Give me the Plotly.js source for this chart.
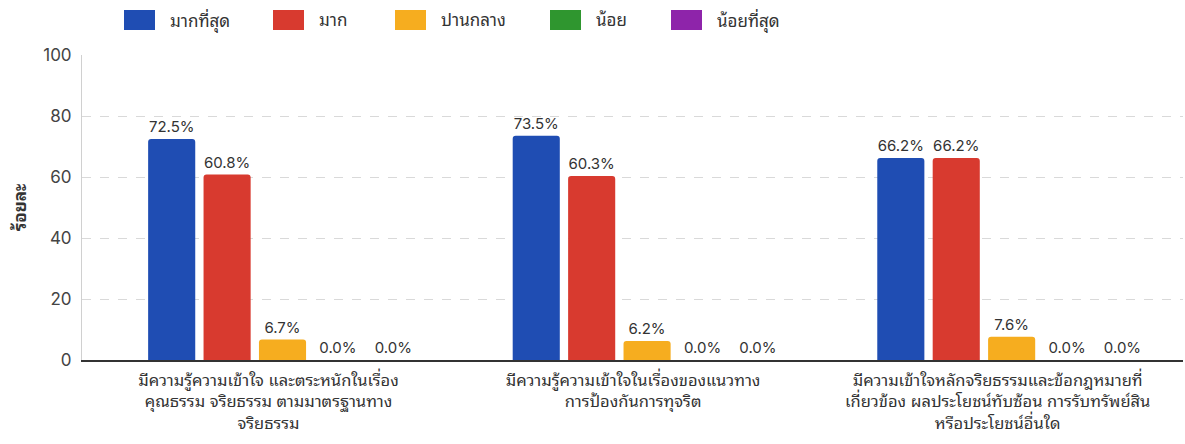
<!DOCTYPE html>
<html>
<head>
<meta charset="utf-8">
<script src="https://cdn.plot.ly/plotly-3.0.1.min.js"></script>
<style>html,body{margin:0;padding:0;background:#fff;}#chart{width:1185px;height:444px;}</style>
</head>
<body>
<div id="chart"></div>
<script>
const categories = ["ด้านที่ 1", "ด้านที่ 2", "ด้านที่ 3"];
const tickLabels = [
  "มีความรู้ความเข้าใจ และตระหนักในเรื่อง<br>คุณธรรม จริยธรรม ตามมาตรฐานทาง<br>จริยธรรม",
  "มีความรู้ความเข้าใจในเรื่องของแนวทาง<br>การป้องกันการทุจริต",
  "มีความเข้าใจหลักจริยธรรมและข้อกฎหมายที่<br>เกี่ยวข้อง ผลประโยชน์ทับซ้อน การรับทรัพย์สิน<br>หรือประโยชน์อื่นใด"
];
const seriesNames = ["มากที่สุด", "มาก", "ปานกลาง", "น้อย", "น้อยที่สุด"];
const veryHigh = [72.5, 73.5, 66.2];
const high = [60.8, 60.3, 66.2];
const medium = [6.7, 6.2, 7.6];
const low = [0.0, 0.0, 0.0];
const veryLow = [0.0, 0.0, 0.0];
const seriesValues = [veryHigh, high, medium, low, veryLow];
const yTicks = [0, 20, 40, 60, 80, 100];

const colors = ["#1f4db3", "#d83a2f", "#f6ad1f", "#2f962f", "#8e24aa"];
const FONT = "Inter, 'Noto Sans Thai Looped', Loma, Garuda, 'Noto Sans Thai', 'Noto Sans', Roboto, sans-serif";

const traces = seriesValues.map((vals, i) => ({
  type: "bar",
  name: seriesNames[i],
  x: categories,
  y: vals,
  marker: { color: colors[i], cornerradius: 3 },
  text: vals.map(v => v.toFixed(1) + "%"),
  textposition: "outside",
  cliponaxis: false,
  textfont: { family: FONT, size: 15, color: "#333" },
  hoverinfo: "skip"
}));

// custom legend (large swatches)
const W = 1185, H = 444;
const mL = 82, mR = 2, mT = 55, mB = 84;
const pw = W - mL - mR, ph = H - mT - mB;
const px = x => (x - mL) / pw;
const py = y => (H - mB - y) / ph;
const swatchX = [124, 273, 395, 550, 671];
const shapes = [];
const annotations = [];
seriesNames.forEach((n, i) => {
  shapes.push({
    type: "rect", xref: "paper", yref: "paper",
    x0: px(swatchX[i]), x1: px(swatchX[i] + 31),
    y0: py(30), y1: py(10),
    fillcolor: colors[i], line: { width: 0 }
  });
  annotations.push({
    xref: "paper", yref: "paper",
    x: px(swatchX[i] + 44), y: py(20),
    xanchor: "left", yanchor: "middle",
    text: n, showarrow: false,
    font: { family: FONT, size: 17, color: "#333" }
  });
});

const layout = {
  width: W, height: H,
  margin: { l: mL, r: mR, t: mT, b: mB },
  paper_bgcolor: "#fff", plot_bgcolor: "#fff",
  showlegend: false,
  barmode: "group",
  bargap: 0.24,
  bargroupgap: 0.15,
  font: { family: FONT, color: "#333" },
  xaxis: {
    type: "category",
    range: [-0.55, 2.47],
    tickvals: categories,
    ticktext: tickLabels,
    ticklabelshift: -14,
    ticklabelstandoff: 4,
    tickfont: { family: FONT, size: 16.5, color: "#333" },
    showline: true, linecolor: "#333", linewidth: 2,
    showgrid: false, ticks: "", fixedrange: true
  },
  yaxis: {
    range: [0, 100],
    tickvals: yTicks,
    tickfont: { family: FONT, size: 17, color: "#444" },
    title: { text: "<b>ร้อยละ</b>", font: { family: FONT, size: 17, color: "#333" }, standoff: 12 },
    showgrid: true, gridcolor: "#d9d9d9", griddash: "dash", gridwidth: 1,
    showline: true, linecolor: "#d0d0d0", linewidth: 1,
    zeroline: false, ticks: "", ticklabelstandoff: 6
  },
  shapes: shapes,
  annotations: annotations
};

Plotly.newPlot("chart", traces, layout, { displayModeBar: false, staticPlot: true });
</script>
</body>
</html>
